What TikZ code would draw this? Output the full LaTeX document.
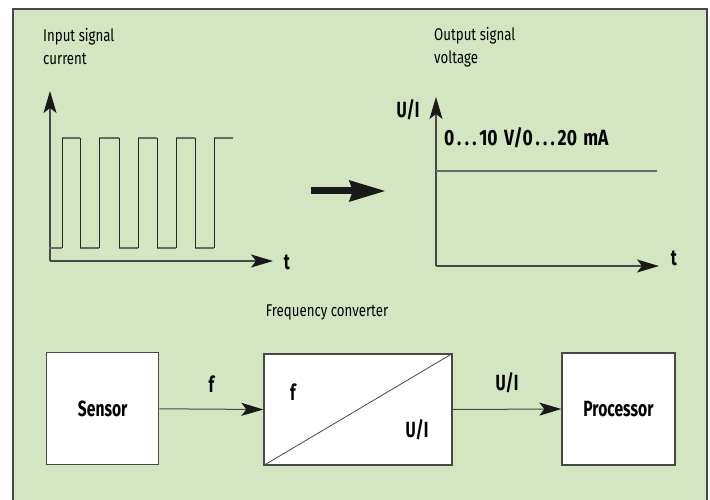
\documentclass[tikz,border=0pt]{standalone}
\usepackage{fontspec}
\setmainfont{Fira Sans}[FakeStretch=0.78]
\newfontfamily\bcond{Fira Sans}[FakeStretch=0.71]
\usetikzlibrary{arrows.meta}
\definecolor{panelgreen}{RGB}{211,229,193}
\definecolor{edgegray}{RGB}{72,72,72}
\definecolor{siggray}{RGB}{105,105,105}
\newcommand\widedots{\kern2.5pt.\kern3pt.\kern3pt.\kern2.5pt}
\begin{document}
\begin{tikzpicture}[x=1pt,y=-1pt,
  txt/.style={font=\fontsize{17}{23}\selectfont, inner sep=0pt, align=left},
  btxt/.style={font=\bcond\fontsize{22}{26}\selectfont\bfseries, inner sep=0pt},
  blockbox/.style={draw=edgegray, fill=white, line width=1.3pt},
  tip/.style={-{Stealth[length=22pt,width=13pt,inset=5pt,color=black!90]}},
  axis/.style={draw=edgegray, line width=1.2pt, tip},
  conn/.style={draw=edgegray, line width=1pt, tip},
  hsig/.style={draw=siggray, line width=1.3pt},
  vsig/.style={draw=black!85, line width=1pt},
]
\useasboundingbox (0,0) rectangle (710,500);
\fill[panelgreen] (13,9) rectangle (707,500);
\draw[edgegray, line width=1.3pt] (13,500) -- (13,9) -- (707,9) -- (707,500);

% input graph
\node[txt, anchor=base west] (inlabel) at (43,65) {Input signal\\current};
\coordinate (lo) at (50,261);
\coordinate (ly) at (50,91);
\coordinate (lx) at (273,261);
\draw[axis] (lo) -- (ly);
\draw[axis] (lo) -- (lx);
\node[btxt] (lt) at (287,262) {t};
\foreach \a/\b in {49/62, 80/99, 119/138, 157/176, 195/214}
  \draw[hsig] (\a,248) -- (\b,248);
\foreach \a/\b in {62/80, 99/119, 138/157, 176/195, 214/233}
  \draw[hsig] (\a,138) -- (\b,138);
\foreach \x in {62,80,99,119,138,157,176,195,214}
  \draw[vsig] (\x,248) -- (\x,138);

% big arrow
\coordinate (bigfrom) at (311,191);
\coordinate (bigto) at (386,191);
\draw[black!90, line width=7pt, -{Stealth[length=36pt,width=20pt,inset=3pt]}] (bigfrom) -- (bigto);

% output graph
\node[txt, anchor=base west] (outlabel) at (434,64) {Output signal\\voltage};
\coordinate (ro) at (436,266);
\coordinate (ry) at (436,97);
\coordinate (rx) at (659,266);
\draw[axis] (ro) -- (ry);
\draw[axis] (ro) -- (rx);
\node[btxt] (rui) at (408,110) {U/I};
\node[btxt, anchor=west] (range) at (444,138) {\scalebox{1.12}[1]{0\widedots 10\kern2pt{} V/0\widedots 20\kern2pt{} mA}};
\node[btxt] (rt) at (674,258) {t};
\coordinate (lvla) at (436,171);
\coordinate (lvlb) at (657,171);
\draw[hsig] (lvla) -- (lvlb);

% block diagram
\node[txt, anchor=base] (fclabel) at (327,316) {Frequency converter};
\node[blockbox, btxt, minimum width=112pt, minimum height=112pt] (sensor) at (102.7,408.8) {Sensor};
\node[blockbox, minimum width=188pt, minimum height=111pt] (conv) at (358,409.5) {};
\node[blockbox, btxt, minimum width=113pt, minimum height=112pt] (proc) at (618.5,409) {Processor};
\draw[edgegray, line width=0.8pt] (conv.south west) -- (conv.north east);
\node[btxt] (convf) at (293,392) {f};
\node[btxt] (convui) at (417,430) {U/I};
\draw[conn] (sensor.east) -- node[btxt, above=16pt] (flabel) {f} (conv.west);
\draw[conn] (conv.east) -- node[btxt, above=16pt] (uilabel) {U/I} (proc.west);
\end{tikzpicture}
\end{document}
